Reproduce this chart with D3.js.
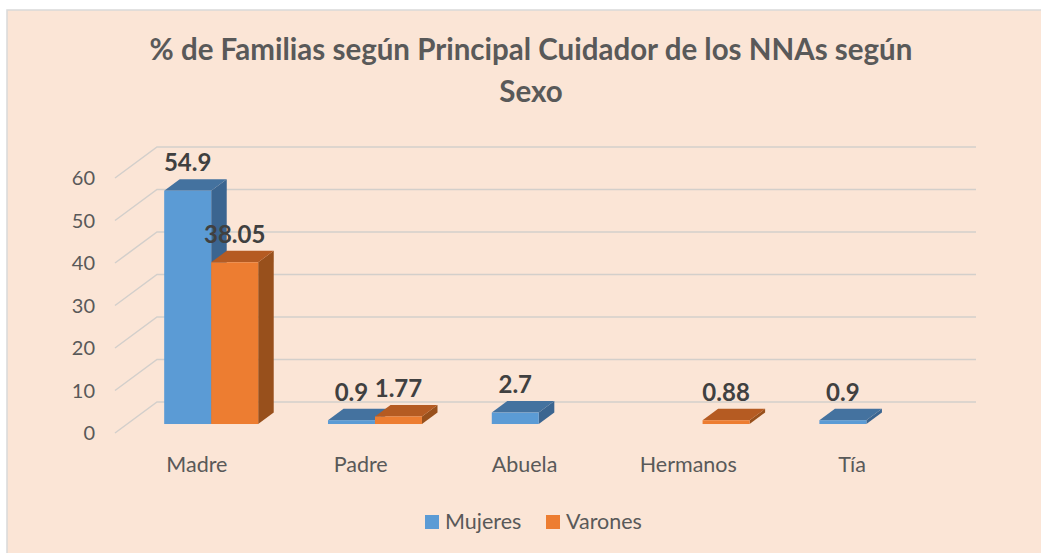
<!DOCTYPE html>
<html>
<head>
<meta charset="utf-8">
<script src="https://cdn.jsdelivr.net/npm/d3@7"></script>
<style>
  body { margin: 0; background: #ffffff; }
  text { font-family: Lato, "Open Sans", sans-serif; }
</style>
</head>
<body>
<div id="chart"></div>
<script>
// Chart data
const categories = ["Madre", "Padre", "Abuela", "Hermanos", "Tía"];
const seriesNames = ["Mujeres", "Varones"];
const mujeres = [54.9, 0.9, 2.7, null, 0.9];
const varones = [38.05, 1.77, null, 0.88, null];
const yTicks = [0, 10, 20, 30, 40, 50, 60];
const titleLines = ["% de Familias según Principal Cuidador de los NNAs según", "Sexo"];

const width = 1041;
const height = 553;

// 3D look: depth vector of the floor, bars sit between two depth fractions
const depth = { dx: 42, dy: -31 };
const barFront = 0.29;
const barBack = 0.66;

const colors = {
  Mujeres: { front: "#5B9BD5", top: "#44729F", side: "#3B6590" },
  Varones: { front: "#ED7D31", top: "#B55B22", side: "#98501C" }
};

const svg = d3
  .select("#chart")
  .append("svg")
  .attr("width", width)
  .attr("height", height);

// Chart area background
svg
  .append("rect")
  .attr("x", 7)
  .attr("y", 10)
  .attr("width", width)
  .attr("height", height)
  .attr("fill", "#FBE5D6")
  .attr("stroke", "#D9D9D9")
  .attr("stroke-width", 1.5);

// Title
svg
  .append("g")
  .selectAll("text")
  .data(titleLines)
  .enter()
  .append("text")
  .attr("x", 531)
  .attr("y", (d, i) => 60 + i * 42)
  .attr("text-anchor", "middle")
  .attr("font-size", 29.5)
  .attr("font-weight", "bold")
  .attr("fill", "#595959")
  .text((d) => d);

// Scales (front plane of the floor)
const xScale = d3.scaleBand().domain(categories).range([115, 934]);
const xSub = d3.scaleBand().domain(seriesNames).range([37, 131]);
const yScale = d3.scaleLinear().domain([0, 60]).range([433, 178]);

// Gridlines: diagonal on the side wall + horizontal on the back wall
const grid = svg.append("g").attr("class", "grid");
yTicks.forEach((t) => {
  const y = yScale(t);
  grid
    .append("path")
    .attr(
      "d",
      `M${xScale.range()[0]},${y} L${xScale.range()[0] + depth.dx},${y + depth.dy} L${xScale.range()[1] + depth.dx},${y + depth.dy}`
    )
    .attr("fill", "none")
    .attr("stroke", "#D3CFCB")
    .attr("stroke-width", 1.5);
});

// Y axis labels
svg
  .append("g")
  .selectAll("text")
  .data(yTicks)
  .enter()
  .append("text")
  .attr("x", 95)
  .attr("y", (d) => yScale(d))
  .attr("dy", "0.35em")
  .attr("text-anchor", "end")
  .attr("font-size", 20)
  .attr("fill", "#595959")
  .text((d) => d);

// Category labels
svg
  .append("g")
  .selectAll("text")
  .data(categories)
  .enter()
  .append("text")
  .attr("x", (d) => xScale(d) + xScale.bandwidth() / 2)
  .attr("y", 472)
  .attr("text-anchor", "middle")
  .attr("font-size", 21.5)
  .attr("fill", "#595959")
  .text((d) => d);

// Build bar records
const bars = [];
categories.forEach((c, i) => {
  [["Mujeres", mujeres[i]], ["Varones", varones[i]]].forEach(([s, v]) => {
    if (v !== null) bars.push({ category: c, series: s, value: v });
  });
});

const fx = barFront * depth.dx;
const fy = barFront * depth.dy;
const bx = (barBack - barFront) * depth.dx;
const by = (barBack - barFront) * depth.dy;

const barGroup = svg.append("g").attr("class", "bars");
bars.forEach((d) => {
  const x0 = xScale(d.category) + xSub(d.series) + fx;
  const x1 = x0 + xSub.bandwidth();
  const yTop = yScale(d.value) + fy;
  const yBot = yScale(0) + fy;
  const col = colors[d.series];
  const g = barGroup.append("g");

  // side face
  g.append("path")
    .attr("d", `M${x1},${yTop} L${x1 + bx},${yTop + by} L${x1 + bx},${yBot + by} L${x1},${yBot} Z`)
    .attr("fill", col.side);
  // top face
  g.append("path")
    .attr("d", `M${x0},${yTop} L${x0 + bx},${yTop + by} L${x1 + bx},${yTop + by} L${x1},${yTop} Z`)
    .attr("fill", col.top);
  // front face
  g.append("rect")
    .attr("x", x0)
    .attr("y", yTop)
    .attr("width", x1 - x0)
    .attr("height", yBot - yTop)
    .attr("fill", col.front);
});

// Data labels
svg
  .append("g")
  .selectAll("text")
  .data(bars)
  .enter()
  .append("text")
  .attr("x", (d) => xScale(d.category) + xSub(d.series) + fx + xSub.bandwidth() / 2)
  .attr("y", (d) => yScale(d.value) + fy + by - 8)
  .attr("text-anchor", "middle")
  .attr("font-size", 24)
  .attr("font-weight", "bold")
  .attr("fill", "#404040")
  .text((d) => d.value);

// Legend
const legend = svg
  .append("g")
  .selectAll("g")
  .data(seriesNames)
  .enter()
  .append("g")
  .attr("transform", (d, i) => `translate(${425 + i * 121}, 515)`);

legend
  .append("rect")
  .attr("width", 14)
  .attr("height", 14)
  .attr("fill", (d) => colors[d].front);

legend
  .append("text")
  .attr("x", 20)
  .attr("y", 14)
  .attr("font-size", 21.5)
  .attr("fill", "#595959")
  .text((d) => d);
</script>
</body>
</html>
